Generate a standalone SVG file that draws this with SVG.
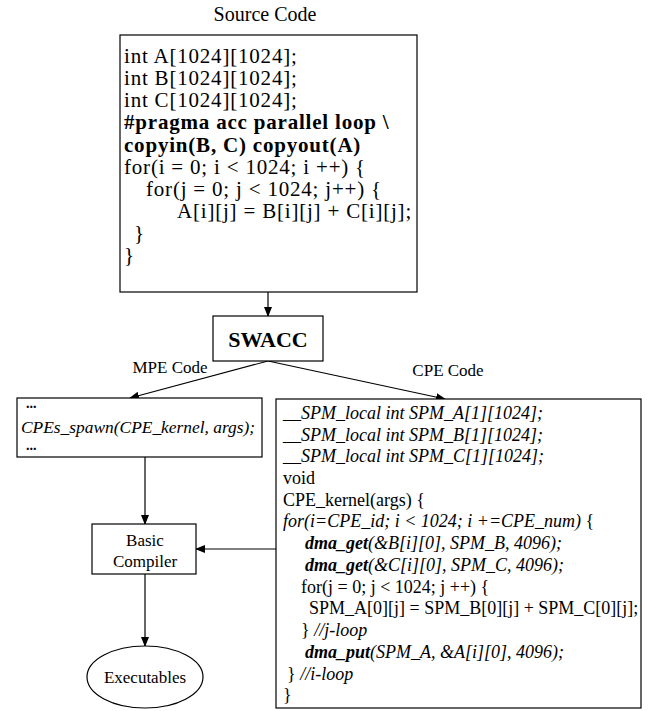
<svg xmlns="http://www.w3.org/2000/svg" width="651" height="711" viewBox="0 0 651 711">
<defs>
<marker id="ah" markerWidth="10" markerHeight="8" refX="9" refY="4" orient="auto" markerUnits="userSpaceOnUse">
<path d="M0,0 L10,4 L0,8 Z" fill="#000"/>
</marker>
<style>
text{font-family:"Liberation Serif","Times New Roman",serif;fill:#000}
.box{fill:#fff;stroke:#000;stroke-width:1.2}
.lbl{font-size:17px;text-anchor:middle}
.src{font-size:21px;letter-spacing:0.8px}
.cpe{font-size:18px}
.dots{font-size:14px;font-weight:bold}
.b{font-weight:bold}
.i{font-style:italic}
.conn{stroke:#000;stroke-width:1.2;fill:none;marker-end:url(#ah)}
</style>
</defs>
<rect width="651" height="711" fill="#fff"/>
<g id="connectors">
<line class="conn" x1="268" y1="292" x2="268" y2="316"/>
<line class="conn" x1="268" y1="361" x2="130" y2="398"/>
<line class="conn" x1="268" y1="361" x2="445" y2="399"/>
<line class="conn" x1="145" y1="457" x2="145" y2="524"/>
<line class="conn" x1="276" y1="549" x2="196" y2="549"/>
<line class="conn" x1="145" y1="574" x2="145" y2="646"/>
<text class="lbl" x="170" y="373">MPE Code</text>
<text class="lbl" x="448" y="376">CPE Code</text>
</g>
<g id="source">
<text x="265" y="21" style="font-size:20px;text-anchor:middle">Source Code</text>
<rect class="box" x="120" y="35" width="297" height="257"/>
<text class="src" x="124" y="63">int A[1024][1024];</text>
<text class="src" x="124" y="85">int B[1024][1024];</text>
<text class="src" x="124" y="107">int C[1024][1024];</text>
<text class="src b" x="124" y="129">#pragma acc parallel loop \</text>
<text class="src b" x="124" y="152">copyin(B, C) copyout(A)</text>
<text class="src" x="124" y="174">for(i = 0; i &lt; 1024; i ++) {</text>
<text class="src" x="146" y="196">for(j = 0; j &lt; 1024; j++) {</text>
<text class="src" x="177" y="218">A[i][j] = B[i][j] + C[i][j];</text>
<text class="src" x="134" y="240">}</text>
<text class="src" x="124" y="262">}</text>
</g>
<g id="swacc">
<rect class="box" x="213" y="316" width="110" height="45"/>
<text x="268" y="347" style="font-size:22px;font-weight:bold;text-anchor:middle">SWACC</text>
</g>
<g id="mpe">
<rect class="box" x="17" y="398" width="245" height="59"/>
<text class="dots" x="26" y="408">...</text>
<text class="i" x="21" y="433" style="font-size:17.4px">CPEs_spawn(CPE_kernel, args);</text>
<text class="dots" x="26" y="450">...</text>
</g>
<g id="compiler">
<rect class="box" x="92" y="524" width="104" height="50"/>
<text class="lbl" x="145" y="546">Basic</text>
<text class="lbl" x="145" y="567">Compiler</text>
</g>
<g id="executables">
<ellipse class="box" cx="145" cy="677" rx="58" ry="31"/>
<text class="lbl" x="145" y="683">Executables</text>
</g>
<g id="cpe">
<rect class="box" x="276" y="399" width="365" height="309"/>
<text class="cpe i" x="283" y="419">__SPM_local int SPM_A[1][1024];</text>
<text class="cpe i" x="283" y="441">__SPM_local int SPM_B[1][1024];</text>
<text class="cpe i" x="283" y="462">__SPM_local int SPM_C[1][1024];</text>
<text class="cpe" x="283" y="484">void</text>
<text class="cpe" x="283" y="506">CPE_kernel(args) {</text>
<text class="cpe" x="283" y="527"><tspan class="i">for(i=CPE_id; i &lt; 1024; i +=CPE_num)</tspan> {</text>
<text class="cpe i" x="305" y="549"><tspan class="b">dma_get</tspan>(&amp;B[i][0], SPM_B, 4096);</text>
<text class="cpe i" x="305" y="571"><tspan class="b">dma_get</tspan>(&amp;C[i][0], SPM_C, 4096);</text>
<text class="cpe" x="301" y="593">for(j = 0; j &lt; 1024; j ++) {</text>
<text class="cpe" x="309" y="614">SPM_A[0][j] = SPM_B[0][j] + SPM_C[0][j];</text>
<text class="cpe" x="301" y="636">} <tspan class="i">//j-loop</tspan></text>
<text class="cpe i" x="305" y="658"><tspan class="b">dma_put</tspan>(SPM_A, &amp;A[i][0], 4096);</text>
<text class="cpe" x="287" y="680">} <tspan class="i">//i-loop</tspan></text>
<text class="cpe" x="283" y="701">}</text>
</g>
</svg>
